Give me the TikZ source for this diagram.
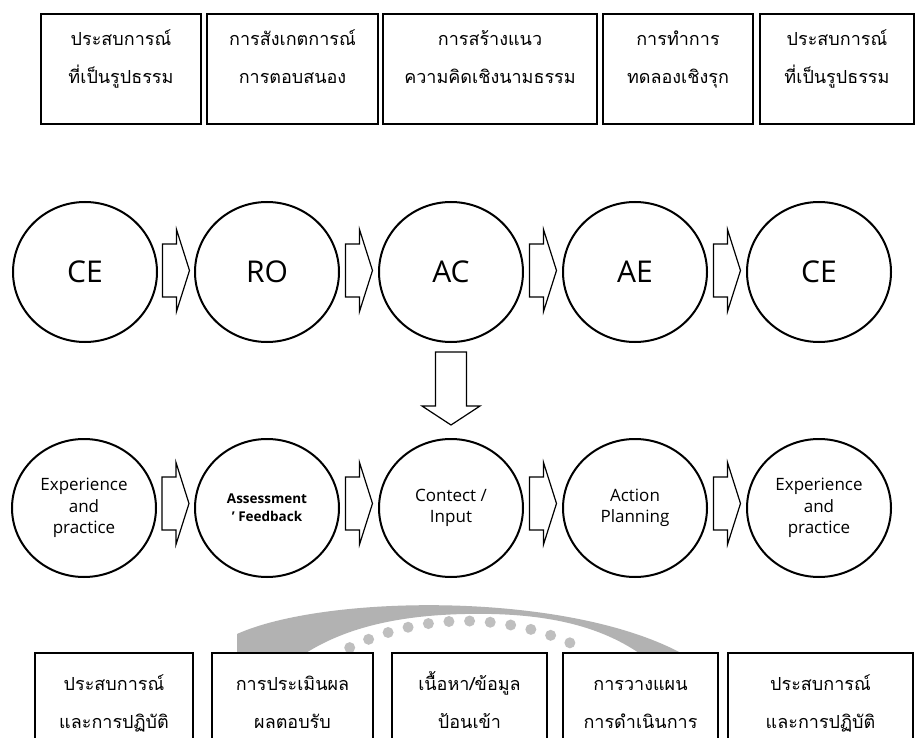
\documentclass[tikz,border=0pt]{standalone}
\usepackage{fontspec}
\setmainfont{Open Sans}
\newfontfamily\thaifont[Script=Thai]{Loma}
\usetikzlibrary{calc,shapes.geometric}
\tikzset{
  tbox/.style={draw, line width=2pt, fill=white, inner sep=0pt},
  ttext/.style={anchor=base, inner sep=0pt, font=\thaifont\fontsize{18}{38}\selectfont},
  circ/.style={draw, ellipse, line width=2pt, inner sep=0pt, minimum width=144pt, align=center},
  big/.style={font=\fontsize{30}{36}\selectfont},
  small/.style={font=\fontsize{17}{21.5}\selectfont},
  blk/.style={draw, line width=1.2pt, fill=white, line join=miter},
  rarrow/.pic={\path[blk] (-13.5,-26.5) -- (0.5,-26.5) -- (0.5,-41) -- (13.5,0) -- (0.5,41) -- (0.5,26.5) -- (-13.5,26.5) -- cycle;},
  darrow/.pic={\path[blk] (-15.5,-38.5) -- (15.5,-38.5) -- (15.5,15.5) -- (29,15.5) -- (0,34.5) -- (-29,15.5) -- (-15.5,15.5) -- cycle;},
  wm/.style={fill=black!30, draw=none}
}
\newcommand\twolines[3]{%
  \node[ttext] at ($(#1.north)+(0,33)$) {#2};
  \node[ttext] at ($(#1.north)+(0,71)$) {#3};}
\newcommand\twolinesb[3]{%
  \node[ttext] at ($(#1.north)+(0,38)$) {#2};
  \node[ttext] at ($(#1.north)+(0,76)$) {#3};}
\begin{document}
\begin{tikzpicture}[x=1pt,y=-1pt]
\useasboundingbox (0,0) rectangle (916,738);
\clip (0,0) rectangle (916,738);
\fill[white] (0,0) rectangle (916,738);
% watermark
\path[wm] (237,634) .. controls (330,592) and (600,590) .. (705,668)
  -- (690,705) .. controls (640,630) and (560,612) .. (465,614)
  .. controls (370,616) and (300,640) .. (255,700) -- (237,700) -- cycle;
\foreach \a in {-26,-21.5,...,27}
  \fill[black!25] ({465+263*sin(\a)},{884-263*cos(\a)}) circle (5.5);
% top boxes
\node[tbox, minimum width=160pt, minimum height=110pt] (t1) at (121,69) {};
\node[tbox, minimum width=171pt, minimum height=110pt] (t2) at (292.5,69) {};
\node[tbox, minimum width=214pt, minimum height=110pt] (t3) at (490,69) {};
\node[tbox, minimum width=150pt, minimum height=110pt] (t4) at (678,69) {};
\node[tbox, minimum width=154pt, minimum height=110pt] (t5) at (837,69) {};
\twolines{t1}{ประสบการณ์}{ที่เป็นรูปธรรม}
\twolines{t2}{การสังเกตการณ์}{การตอบสนอง}
\twolines{t3}{การสร้างแนว}{ความคิดเชิงนามธรรม}
\twolines{t4}{การทำการ}{ทดลองเชิงรุก}
\twolines{t5}{ประสบการณ์}{ที่เป็นรูปธรรม}
% row 1 circles
\node[circ, minimum height=140pt, big] (c1) at (85,272) {CE};
\node[circ, minimum height=140pt, big] (c2) at (267,272) {RO};
\node[circ, minimum height=140pt, big] (c3) at (451,272) {AC};
\node[circ, minimum height=140pt, big] (c4) at (635,272) {AE};
\node[circ, minimum height=140pt, big] (c5) at (819,272) {CE};
\pic at ($(c1)!0.5!(c2)+(0,-1.5)$) {rarrow};
\pic at ($(c2)!0.5!(c3)+(0,-1.5)$) {rarrow};
\pic at ($(c3)!0.5!(c4)+(0,-1.5)$) {rarrow};
\pic at ($(c4)!0.5!(c5)+(0,-1.5)$) {rarrow};
% row 2 circles
\node[circ, minimum height=138pt, small] (d1) at (84,508) {Experience\\and\\practice};
\node[circ, minimum height=138pt, font=\bfseries\fontsize{13.5}{18}\selectfont] (d2) at (267,508) {Assessment\\' Feedback};
\node[circ, minimum height=138pt, small] (d3) at (451,508) {Contect /\\Input};
\node[circ, minimum height=138pt, small] (d4) at (635,508) {Action\\Planning};
\node[circ, minimum height=138pt, small] (d5) at (819,508) {Experience\\and\\practice};
\pic at ($(d1)!0.5!(d2)+(0,-4.5)$) {rarrow};
\pic at ($(d2)!0.5!(d3)+(0,-4.5)$) {rarrow};
\pic at ($(d3)!0.5!(d4)+(0,-4.5)$) {rarrow};
\pic at ($(d4)!0.5!(d5)+(0,-4.5)$) {rarrow};
\pic at ($(c3.south)!0.5!(d3.north)$) {darrow};
% bottom boxes
\node[tbox, minimum width=158pt, minimum height=120pt, anchor=north] (b1) at (114,652) {};
\node[tbox, minimum width=161pt, minimum height=120pt, anchor=north] (b2) at (292.5,652) {};
\node[tbox, minimum width=155pt, minimum height=120pt, anchor=north] (b3) at (469.5,652) {};
\node[tbox, minimum width=155pt, minimum height=120pt, anchor=north] (b4) at (640.5,652) {};
\node[tbox, minimum width=185pt, minimum height=120pt, anchor=north] (b5) at (820.5,652) {};
\twolinesb{b1}{ประสบการณ์}{และการปฏิบัติ}
\twolinesb{b2}{การประเมินผล}{ผลตอบรับ}
\twolinesb{b3}{เนื้อหา/ข้อมูล}{ป้อนเข้า}
\twolinesb{b4}{การวางแผน}{การดำเนินการ}
\twolinesb{b5}{ประสบการณ์}{และการปฏิบัติ}
\end{tikzpicture}
\end{document}
